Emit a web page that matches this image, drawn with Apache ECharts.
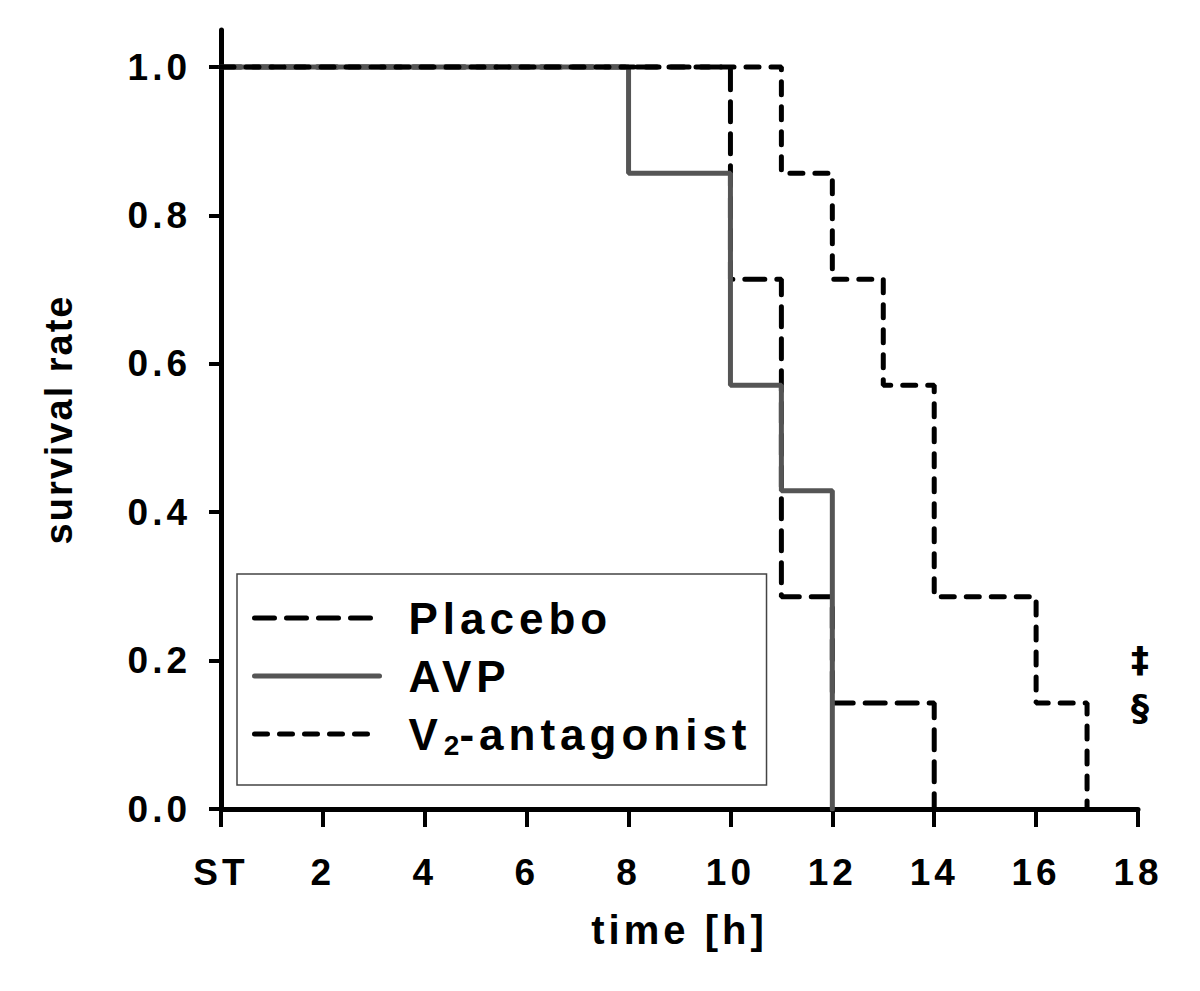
<!DOCTYPE html>
<html>
<head>
<meta charset="utf-8">
<script src="https://cdn.jsdelivr.net/npm/echarts@6/dist/echarts.min.js"></script>
<style>
html,body{margin:0;padding:0;background:#fff;}
#chart{width:1200px;height:991px;}
#chart text{letter-spacing:4px;}
#chart text[style*="44px"]{letter-spacing:5px;}
#chart text[style*="38px"]{letter-spacing:2px;}
#chart text[style*="28px"]{letter-spacing:0px;}
#chart text[style*="36px"]{letter-spacing:0px;}
</style>
</head>
<body>
<div id="chart"></div>
<script>
// ---- data ----
const xTickValues = [0, 2, 4, 6, 8, 10, 12, 14, 16, 18];
const xTickLabels = ['ST', '2', '4', '6', '8', '10', '12', '14', '16', '18'];
const yTickValues = [0, 0.2, 0.4, 0.6, 0.8, 1.0];
const yTickLabels = ['0.0', '0.2', '0.4', '0.6', '0.8', '1.0'];

const seriesNames = ['Placebo', 'AVP', 'V2-antagonist'];

const placeboTime = [0, 10, 11, 12, 14];
const placeboSurv = [1.0, 0.714, 0.286, 0.143, 0.0];

const avpTime = [0, 8, 10, 11, 12];
const avpSurv = [1.0, 0.857, 0.571, 0.429, 0.0];

const v2Time = [0, 11, 12, 13, 14, 16, 17];
const v2Surv = [1.0, 0.857, 0.714, 0.571, 0.286, 0.143, 0.0];

const annotTime = [18.04, 18.04];
const annotSurv = [0.201, 0.137];
const annotText = ['‡', '§'];

// ---- chart ----
const FONT = '"Liberation Sans", Arial, Helvetica, sans-serif';
const pairs = (xs, ys) => xs.map((x, i) => [x, ys[i]]);

const chart = echarts.init(document.getElementById('chart'), null, { renderer: 'svg' });

const option = {
  animation: false,
  backgroundColor: '#fff',
  grid: { left: 221, right: 62, top: 30, bottom: 182, containLabel: false },
  legend: {
    data: seriesNames,
    orient: 'vertical',
    left: 237,
    top: 574,
    padding: [15, 70, 22, 15],
    itemWidth: 125,
    itemHeight: 2,
    itemGap: 0,
    selectedMode: false,
    borderColor: '#444',
    borderWidth: 1.5,
    backgroundColor: '#fff',
    lineStyle: { width: 5 },
    formatter: name => name.replace('V2', 'V{sub|2}'),
    textStyle: {
      fontSize: 44,
      fontWeight: 'bold',
      fontFamily: FONT,
      color: '#000',
      lineHeight: 58,
      padding: [0, 0, 0, 24],
      rich: {
        sub: { fontSize: 28, fontWeight: 'bold', fontFamily: FONT, color: '#000', lineHeight: 14, padding: [22, 0, 0, 6] }
      }
    }
  },
  xAxis: {
    type: 'value',
    min: 0,
    max: 18,
    interval: 2,
    name: 'time [h]',
    nameLocation: 'middle',
    nameGap: 101,
    nameTextStyle: { fontSize: 40, fontWeight: 'bold', fontFamily: FONT, color: '#000' },
    axisLine: { show: true, lineStyle: { color: '#000', width: 5 } },
    axisTick: { show: true, inside: false, length: 18, lineStyle: { color: '#000', width: 4 } },
    axisLabel: {
      margin: 45,
      fontSize: 37,
      fontWeight: 'bold',
      fontFamily: FONT,
      color: '#000',
      formatter: v => { const i = xTickValues.indexOf(v); return i >= 0 ? xTickLabels[i] : ''; }
    },
    splitLine: { show: false }
  },
  yAxis: {
    type: 'value',
    min: 0,
    max: 1.05,
    interval: 0.2,
    name: 'survival rate',
    nameLocation: 'middle',
    nameGap: 143,
    nameTextStyle: { fontSize: 38, fontWeight: 'bold', fontFamily: FONT, color: '#000' },
    axisLine: { show: true, lineStyle: { color: '#000', width: 5 } },
    axisTick: { show: true, inside: false, length: 12, customValues: yTickValues, lineStyle: { color: '#000', width: 4 } },
    axisLabel: {
      customValues: yTickValues,
      margin: 30,
      fontSize: 37,
      fontWeight: 'bold',
      fontFamily: FONT,
      color: '#000',
      formatter: v => {
        const i = yTickValues.findIndex(t => Math.abs(t - v) < 1e-6);
        return i >= 0 ? yTickLabels[i] : '';
      }
    },
    splitLine: { show: false }
  },
  series: [
    {
      name: seriesNames[0],
      type: 'line',
      step: 'end',
      symbol: 'none',
      data: pairs(placeboTime, placeboSurv),
      lineStyle: { color: '#000', width: 5, type: [20, 12], cap: 'round' },
      itemStyle: { color: '#000' },
      z: 2
    },
    {
      name: seriesNames[1],
      type: 'line',
      step: 'end',
      symbol: 'none',
      data: pairs(avpTime, avpSurv),
      lineStyle: { color: '#555555', width: 5, type: 'solid', cap: 'round' },
      itemStyle: { color: '#555555' },
      z: 3
    },
    {
      name: seriesNames[2],
      type: 'line',
      step: 'end',
      symbol: 'none',
      data: pairs(v2Time, v2Surv),
      lineStyle: { color: '#000', width: 5, type: [13, 12], cap: 'round' },
      itemStyle: { color: '#000' },
      z: 4
    },
    {
      name: 'annotations',
      type: 'scatter',
      clip: false,
      silent: true,
      symbol: 'circle',
      symbolSize: 1,
      itemStyle: { color: 'rgba(255,255,255,0)' },
      data: pairs(annotTime, annotSurv),
      label: {
        show: true,
        position: 'inside',
        fontSize: 36,
        fontWeight: 'bold',
        fontFamily: '"DejaVu Sans", "Liberation Sans", sans-serif',
        color: '#000',
        opacity: 1,
        formatter: p => annotText[p.dataIndex]
      },
      z: 5
    }
  ]
};

chart.setOption(option);
</script>
</body>
</html>
